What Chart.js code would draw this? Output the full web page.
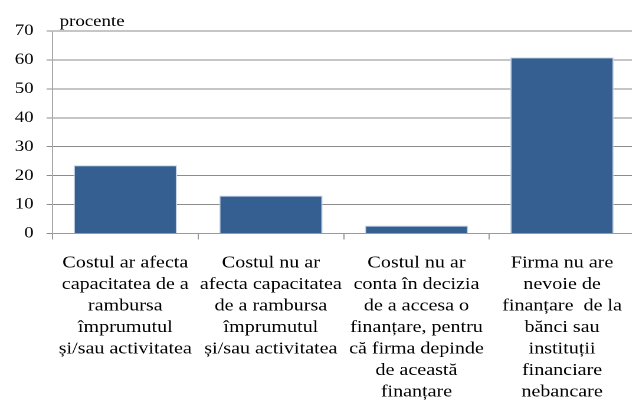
<!DOCTYPE html>
<html>
<head>
<meta charset="utf-8">
<script src="https://cdn.jsdelivr.net/npm/chart.js@4/dist/chart.umd.min.js"></script>
<style>
html,body{margin:0;padding:0;overflow:hidden;background:#fff;width:632px;height:401px;}
#wrap{position:absolute;left:0;top:0;width:542px;height:417px;transform:scaleX(1.18);transform-origin:0 0;}
</style>
</head>
<body>
<div id="wrap"><canvas id="c"></canvas></div>
<script>
const categories = [
  ["Costul ar afecta", "capacitatea de a", "rambursa", "împrumutul", "și/sau activitatea"],
  ["Costul nu ar", "afecta capacitatea", "de a rambursa", "împrumutul", "și/sau activitatea"],
  ["Costul nu ar", "conta în decizia", "de a accesa o", "finanțare, pentru", "că firma depinde", "de această", "finanțare"],
  ["Firma nu are", "nevoie de", "finanțare  de la", "bănci sau", "instituții", "financiare", "nebancare"]
];
const values = [23.6, 13.1, 2.7, 60.9];
const yTicks = [0, 10, 20, 30, 40, 50, 60, 70];
const unitLabel = "procente";

const FONT = '"Liberation Serif", "Times New Roman", serif';

const unitPlugin = {
  id: 'unitLabel',
  afterDraw(chart) {
    const ctx = chart.ctx;
    ctx.save();
    ctx.font = '16px ' + FONT;
    ctx.fillStyle = '#000';
    ctx.textBaseline = 'alphabetic';
    ctx.textAlign = 'left';
    ctx.fillText(unitLabel, chart.chartArea.left + 6, 26);
    ctx.restore();
  }
};

new Chart(document.getElementById('c'), {
  type: 'bar',
  data: {
    labels: categories,
    datasets: [{
      data: values,
      backgroundColor: '#365F91',
      borderColor: 'rgba(200,212,230,1)',
      borderWidth: 1,
      barPercentage: 0.71,
      categoryPercentage: 1.0
    }]
  },
  options: {
    responsive: true,
    maintainAspectRatio: false,
    devicePixelRatio: 2,
    animation: false,
    layout: { padding: { left: 1.5, right: 4, top: 31, bottom: 1 } },
    plugins: { legend: { display: false }, tooltip: { enabled: false }, title: { display: false } },
    scales: {
      x: {
        grid: { drawOnChartArea: false, drawTicks: true, tickLength: 6, color: '#9a9a9a', offset: true },
        border: { color: '#9a9a9a', width: 1 },
        ticks: {
          color: '#000',
          font: { family: FONT, size: 17, lineHeight: 1.265 },
          padding: 13,
          maxRotation: 0,
          minRotation: 0,
          autoSkip: false
        }
      },
      y: {
        min: 0,
        max: 70,
        afterBuildTicks(scale) { scale.ticks = yTicks.map(v => ({ value: v })); },
        grid: { color: '#8c8c8c', lineWidth: 1, drawTicks: true, tickLength: 5 },
        border: { color: '#a8a8a8', width: 1 },
        ticks: {
          color: '#000',
          font: { family: FONT, size: 16 },
          padding: 11
        }
      }
    }
  },
  plugins: [unitPlugin]
});
</script>
</body>
</html>
